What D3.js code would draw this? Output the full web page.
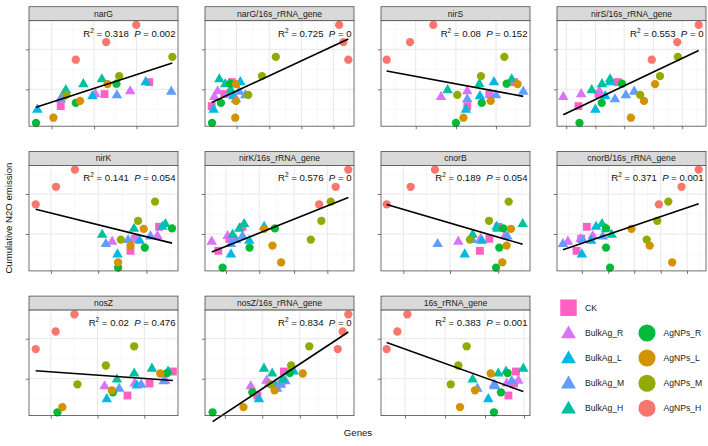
<!DOCTYPE html>
<html><head><meta charset="utf-8">
<script src="https://cdn.jsdelivr.net/npm/d3@7"></script>
<style>
body{margin:0;background:#fff}
text{font-family:"Liberation Sans",Arial,Helvetica,sans-serif}
</style>
</head><body>
<svg id="chart" width="708" height="446"></svg>
<script>
// ---------- data ----------
const groups = ["CK","BulkAg_R","BulkAg_L","BulkAg_M","BulkAg_H","AgNPs_R","AgNPs_L","AgNPs_M","AgNPs_H"];
const groupColors = ["#FF61C3","#DB72FB","#00B9E3","#619CFF","#00C19F","#00BA38","#D39200","#93AA00","#F8766D"];
const groupShapes = ["square","triangle","triangle","triangle","triangle","circle","circle","circle","circle"];
const sampleGroup = groups.flatMap(g => [g, g, g]);

// cumulative N2O emission (relative units, shared by all panels)
const emission = [
  1.18, 0.88, 0.58,   // CK
  0.95, 0.88, 0.81,   // BulkAg_R
  1.18, 0.83, 0.49,   // BulkAg_L
  0.94, 0.85, 0.75,   // BulkAg_M
  1.25, 1.13, 0.98,   // BulkAg_H
  1.14, 0.66, 0.16,   // AgNPs_R
  1.13, 0.71, 0.29,   // AgNPs_L
  1.81, 1.33, 0.86,   // AgNPs_M
  2.61, 2.18, 1.74    // AgNPs_H
];

const genes = ["narG","narG/16s_rRNA_gene","nirS","nirS/16s_rRNA_gene",
               "nirK","nirK/16s_rRNA_gene","cnorB","cnorB/16s_rRNA_gene",
               "nosZ","nosZ/16s_rRNA_gene","16s_rRNA_gene"];

const narG      = [80.7,50.7,21.3, 67.9,44.6,22.0, 78.3,42.6,5.6, 95.5,59.0,21.3, 48.9,36.5,24.7, 58.7,31.4,4.7, 52.7,34.3,16.4, 96.2,60.5,25.0, 72.0,51.8,31.4];
const narG16s   = [18.0,13.0,4.5, 8.5,15.2,6.3, 23.7,19.0,5.8, 23.0,27.0,20.8, 9.6,13.6,17.4, 17.0,10.7,4.7, 20.8,20.8,20.3, 47.5,38.2,29.0, 90.0,92.9,96.2];
const nirS      = [89.3,72.7,57.9, 57.9,73.2,40.3, 75.8,66.4,57.0, 95.5,77.2,57.9, 87.7,66.0,44.7, 84.3,67.6,50.3, 91.7,73.6,55.3, 82.8,67.1,51.2, 35.1,19.5,3.8];
const nirS16s   = [40.7,27.8,14.4, 28.4,16.2,4.2, 35.6,32.4,25.8, 51.8,46.2,38.9, 35.6,30.2,23.3, 43.6,30.0,15.1, 65.8,58.4,49.6, 81.1,69.1,55.8, 95.1,80.7,63.6];
const nirK      = [87.3,71.0,68.1, 86.2,71.0,55.8, 89.5,74.3,59.4, 81.5,66.5,51.6, 91.5,70.5,49.1, 96.0,77.7,59.8, 77.0,68.1,59.8, 84.6,73.2,61.6, 30.8,18.1,4.5];
const nirK16s   = [25.2,16.3,8.9, 15.2,18.5,4.5, 39.7,29.7,17.4, 25.2,20.8,17.4, 26.3,23.0,18.5, 46.9,29.9,11.8, 39.7,45.3,51.1, 84.4,78.1,71.0, 96.2,87.7,76.6];
const cnorB     = [78.7,72.7,66.4, 83.2,66.9,51.9, 77.6,67.6,56.2, 84.8,61.3,38.0, 95.1,78.1,61.5, 82.1,79.4,77.2, 87.2,84.3,81.4, 85.7,72.5,59.7, 36.2,19.9,3.8];
const cnorB16s  = [20.0,16.2,13.1, 24.0,15.8,7.3, 26.2,22.9,16.7, 30.7,17.3,4.0, 30.2,32.9,36.7, 32.9,32.9,35.6, 50.0,62.2,77.3, 74.7,67.3,60.2, 95.1,83.6,68.4];
const nosZ      = [96.6,80.9,66.1, 91.5,70.9,50.7, 93.3,72.4,52.2, 90.4,75.3,60.5, 82.5,70.6,59.0, 92.6,56.3,19.1, 88.1,55.6,22.4, 70.6,51.6,32.5, 30.5,17.9,4.5];
const nosZ16s   = [52.9,51.3,35.1, 41.3,43.0,30.7, 59.6,47.3,36.2, 54.0,50.7,48.4, 39.6,45.1,52.2, 56.9,31.8,5.1, 65.6,46.7,25.8, 70.0,57.8,44.0, 96.2,92.4,89.1];
const rRNA16s   = [90.6,89.3,85.5, 92.2,84.3,76.1, 83.9,76.5,72.0, 87.7,75.8,64.7, 95.5,78.7,61.5, 85.0,80.5,75.8, 73.6,63.1,53.0, 57.5,51.9,46.8, 17.7,11.0,3.8];
const geneValues = [narG, narG16s, nirS, nirS16s, nirK, nirK16s, cnorB, cnorB16s, nosZ, nosZ16s, rRNA16s];

const r2Labels = ["0.318","0.725","0.08","0.553","0.141","0.576","0.189","0.371","0.02","0.834","0.383"];
const pLabels  = ["0.002","0","0.152","0","0.054","0","0.054","0.001","0.476","0","0.001"];

const xMajorTicks = [
  [15.2,43.7,72.2], [21.2,43.1,64.7,86.2], [23.3,50.3,77.2], [6.2,25.8,45.1,64.7,84.0],
  [14.7,46.4,78.8], [14.1,36.4,59.8,82.1], [15.0,46.3,78.7], [16.7,34.4,51.8,69.6,87.3],
  [14.6,46.0,77.4], [13.3,38.4,63.6,88.4], [16.1,43.0,69.8,96.0]
];
const yMajorTicks = [1, 2];
const yMinorTicks = [0.5, 1.5, 2.5];
const xDomain = [0, 100];
const yDomain = [0.0775, 2.715];

// ---------- layout ----------
const svg = d3.select("#chart");
const panelW = 149, panelH = 105.5, stripH = 14;
const colX = [29, 205, 381, 557];
const rowY = [20.7, 165.4, 310.1];

const x = d3.scaleLinear().domain(xDomain).range([0, panelW]);
const y = d3.scaleLinear().domain(yDomain).range([panelH, 0]);

function shapePath(shape, sizeArea) {
  const t = shape === "square" ? d3.symbolSquare : shape === "triangle" ? d3.symbolTriangle : d3.symbolCircle;
  return d3.symbol().type(t).size(sizeArea)();
}
const panelSize = {square: 62, triangle: 48, circle: 54};
const legendSize = {square: 272, triangle: 96, circle: 230};

genes.forEach((gene, i) => {
  const col = i % 4, row = Math.floor(i / 4);
  const g = svg.append("g").attr("transform", `translate(${colX[col]},${rowY[row]})`);
  const vals = geneValues[i];

  // strip
  g.append("rect").attr("x", 0).attr("y", -stripH).attr("width", panelW).attr("height", stripH)
    .attr("fill", "#D9D9D9").attr("stroke", "#4d4d4d").attr("stroke-width", 0.8);
  g.append("text").attr("x", panelW / 2).attr("y", -stripH / 2 + 3)
    .attr("text-anchor", "middle").attr("font-size", 8.6).attr("fill", "#1a1a1a").text(gene);

  // panel background
  g.append("rect").attr("width", panelW).attr("height", panelH).attr("fill", "#fff");

  // grid
  const maj = xMajorTicks[i];
  const step = maj[1] - maj[0];
  const xMinor = [maj[0] - step / 2];
  for (let k = 0; k < maj.length - 1; k++) xMinor.push((maj[k] + maj[k + 1]) / 2);
  xMinor.push(maj[maj.length - 1] + step / 2);
  const grid = g.append("g");
  grid.selectAll(".xmin").data(xMinor.filter(v => v > xDomain[0] && v < xDomain[1])).join("line")
    .attr("x1", d => x(d)).attr("x2", d => x(d)).attr("y1", 0).attr("y2", panelH)
    .attr("stroke", "#F2F2F2").attr("stroke-width", 0.6);
  grid.selectAll(".ymin").data(yMinorTicks).join("line")
    .attr("x1", 0).attr("x2", panelW).attr("y1", d => y(d)).attr("y2", d => y(d))
    .attr("stroke", "#F2F2F2").attr("stroke-width", 0.6);
  grid.selectAll(".xmaj").data(maj).join("line")
    .attr("x1", d => x(d)).attr("x2", d => x(d)).attr("y1", 0).attr("y2", panelH)
    .attr("stroke", "#E8E8E8").attr("stroke-width", 1);
  grid.selectAll(".ymaj").data(yMajorTicks).join("line")
    .attr("x1", 0).attr("x2", panelW).attr("y1", d => y(d)).attr("y2", d => y(d))
    .attr("stroke", "#E8E8E8").attr("stroke-width", 1);

  // axes (ticks only, no labels)
  const xAxis = g.append("g").attr("transform", `translate(0,${panelH})`)
    .call(d3.axisBottom(x).tickValues(maj).tickSize(3).tickFormat(""));
  const yAxis = g.append("g").call(d3.axisLeft(y).tickValues(yMajorTicks).tickSize(3).tickFormat(""));
  [xAxis, yAxis].forEach(a => {
    a.select(".domain").remove();
    a.selectAll("line").attr("stroke", "#4d4d4d").attr("stroke-width", 0.8);
  });

  // points
  const pts = vals.map((v, k) => ({x: v, y: emission[k], grp: sampleGroup[k]}));
  g.selectAll(".pt").data(pts).join("path")
    .attr("transform", d => `translate(${x(d.x)},${y(d.y)})`)
    .attr("d", d => { const s = groupShapes[groups.indexOf(d.grp)]; return shapePath(s, panelSize[s]); })
    .attr("fill", d => groupColors[groups.indexOf(d.grp)]);

  // linear fit
  const mx = d3.mean(pts, d => d.x), my = d3.mean(pts, d => d.y);
  const b = d3.sum(pts, d => (d.x - mx) * (d.y - my)) / d3.sum(pts, d => (d.x - mx) ** 2);
  const a0 = my - b * mx;
  const [xmin, xmax] = d3.extent(pts, d => d.x);
  g.append("line").attr("x1", x(xmin)).attr("y1", y(a0 + b * xmin))
    .attr("x2", x(xmax)).attr("y2", y(a0 + b * xmax))
    .attr("stroke", "#000").attr("stroke-width", 1.6);

  // annotation
  const t = g.append("text").attr("x", panelW - 2.5).attr("y", 16)
    .attr("text-anchor", "end").attr("font-size", 9.6).attr("fill", "#111");
  t.append("tspan").text("R");
  t.append("tspan").attr("font-size", 6.5).attr("dy", -4).text("2");
  t.append("tspan").attr("dy", 4).text(` = ${r2Labels[i]}\u00A0\u00A0`);
  t.append("tspan").attr("font-style", "italic").text("P");
  t.append("tspan").text(` = ${pLabels[i]}`);

  // border
  g.append("rect").attr("width", panelW).attr("height", panelH).attr("fill", "none")
    .attr("stroke", "#4d4d4d").attr("stroke-width", 0.8);
});

// axis titles
svg.append("text").attr("x", 358).attr("y", 436)
  .attr("text-anchor", "middle").attr("font-size", 9.6).attr("fill", "#111").text("Genes");
svg.append("text").attr("transform", `translate(12,${(rowY[0] + rowY[2] + panelH) / 2}) rotate(-90)`)
  .attr("text-anchor", "middle").attr("font-size", 9.6).attr("fill", "#111")
  .text("Cumulative N2O emission");

// legend
const legCols = [568.5, 647];
const legRows = [307.7, 333, 358, 383.2, 408.3];
const legendItems = groups.map((grp, k) => {
  if (k === 0) return {grp, c: 0, r: 0};
  if (k <= 4) return {grp, c: 0, r: k};
  return {grp, c: 1, r: k - 4};
});
const leg = svg.append("g");
legendItems.forEach(it => {
  const k = groups.indexOf(it.grp);
  const s = groupShapes[k];
  leg.append("path").attr("transform", `translate(${legCols[it.c]},${legRows[it.r] + (s === "triangle" ? 1 : 0)})`)
    .attr("d", shapePath(s, legendSize[s])).attr("fill", groupColors[k]);
  leg.append("text").attr("x", legCols[it.c] + 16.5).attr("y", legRows[it.r] + 3)
    .attr("font-size", 8.6).attr("fill", "#1a1a1a").text(it.grp);
});
</script>
</body></html>
